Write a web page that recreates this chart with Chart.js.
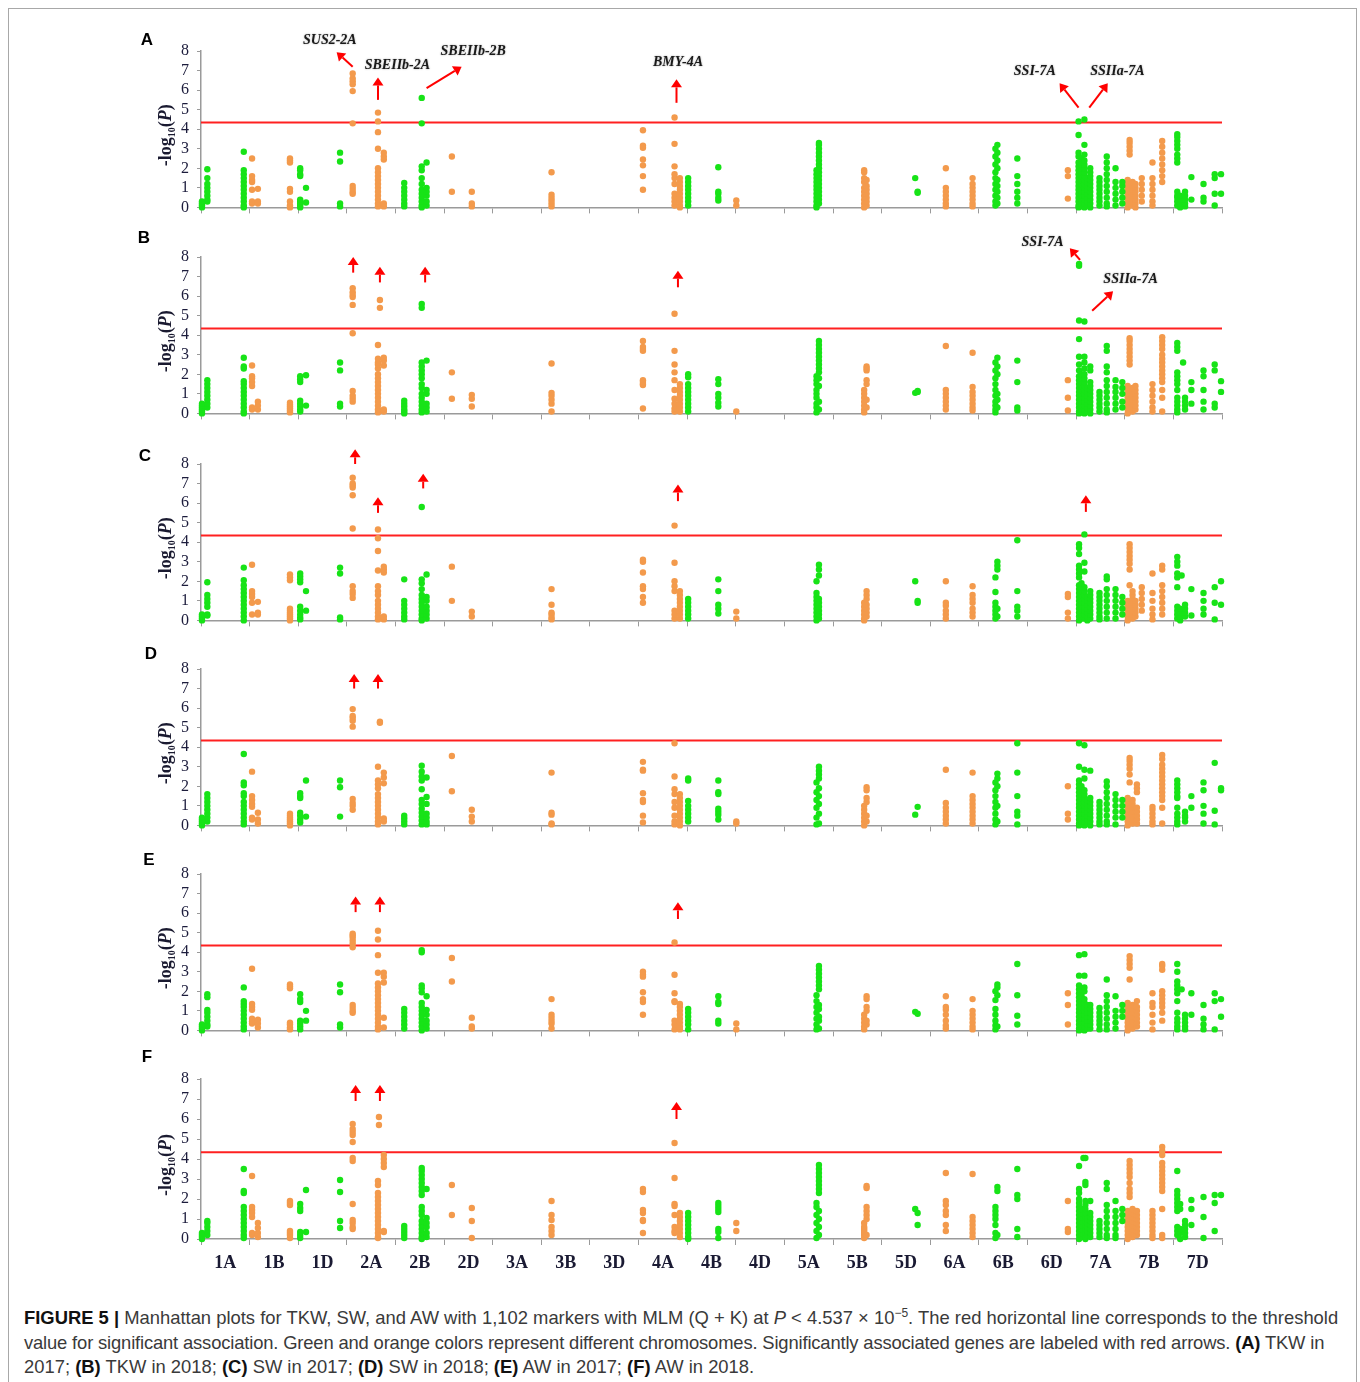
<!DOCTYPE html>
<html>
<head>
<meta charset="utf-8">
<script src="https://cdn.jsdelivr.net/npm/chart.js@4.4.0/dist/chart.umd.min.js"></script>
<style>
    body { margin: 0; background: #fff; width: 1360px; height: 1382px; overflow: hidden; position: relative; }
    #frame { position: absolute; left: 8px; top: 8px; width: 1347px; height: 1400px; border: 1px solid #a8a8a8; }
    canvas { position: absolute; left: 130px; }
    #caption { position: absolute; left: 24px; top: 1306px; font: 18.4px "Liberation Sans", Arial, sans-serif;
               line-height: 24.5px; color: #3a3a3a; white-space: nowrap; }
    #caption b { color: #111; }
    #caption sup { font-size: 12px; line-height: 0; }
    #caption .tight { letter-spacing: -0.16px; }
</style>
</head>
<body>
<div id="frame"></div>
<div id="caption">
<b>FIGURE 5 |</b> Manhattan plots for TKW, SW, and AW with 1,102 markers with MLM (Q + K) at <i>P</i> &lt; 4.537 × 10<sup>−5</sup>. The red horizontal line corresponds to the threshold<br>
<span class="tight">value for significant association. Green and orange colors represent different chromosomes. Significantly associated genes are labeled with red arrows. <b>(A)</b> TKW in</span><br>
2017; <b>(B)</b> TKW in 2018; <b>(C)</b> SW in 2017; <b>(D)</b> SW in 2018; <b>(E)</b> AW in 2017; <b>(F)</b> AW in 2018.
</div>
<script>
const chromosomes = ['1A','1B','1D','2A','2B','2D','3A','3B','3D','4A','4B','4D','5A','5B','5D','6A','6B','6D','7A','7B','7D'];
const threshold = 4.343; // -log10(4.537e-5)

// each row: genome position (chromosome index + fraction), then -log10(P) of the markers there
const tkw2017 = [
    [0.02, 0, 0.1, 0.2, 0.3], [0.13, 0.3, 0.4, 0.6, 0.8, 1.0, 1.2, 1.5, 1.95],
    [0.88, 0, 0.1, 0.3, 0.5, 0.7, 0.9, 1.1, 1.3, 1.5, 1.7, 1.9, 2.85],
    [1.05, 0.2, 0.3, 0.9, 1.3, 1.4, 1.6, 2.5], [1.17, 0.2, 0.3, 0.95],
    [1.83, 0, 0.1, 0.3, 0.8, 0.95, 2.3, 2.4, 2.5], [2.04, 0, 0.1, 0.2, 0.3, 0.4, 1.6, 1.7, 1.9, 2.0],
    [2.16, 0.25, 1.0], [2.86, 0.05, 0.2, 2.35, 2.8],
    [3.12, 0.7, 0.8, 0.95, 1.1, 4.3, 5.95, 6.3, 6.45, 6.6, 6.85],
    [3.64, 0.05, 0.2, 0.4, 0.6, 0.8, 1.0, 1.2, 1.4, 1.6, 1.8, 2.0, 3.0, 3.85, 4.4, 4.85],
    [3.76, 0.05, 0.2, 2.45, 2.6, 2.8], [4.18, 0.05, 0.2, 0.4, 0.6, 0.8, 1.0, 1.25],
    [4.54, 0, 0.1, 0.3, 0.5, 0.7, 0.9, 1.2, 1.5, 1.9, 2.1, 4.3, 5.6], [4.64, 0.1, 0.3, 0.6, 0.8, 1.0, 2.3],
    [5.16, 0.8, 2.6], [5.57, 0.05, 0.2, 0.8], [7.21, 0.05, 0.2, 0.35, 0.5, 0.65, 1.8],
    [9.09, 0.9, 1.6, 2.15, 2.45, 3.05, 3.15, 3.95], [9.74, 0.1, 0.3, 0.5, 0.7, 1.2, 1.5, 1.7, 2.1, 3.25, 4.6],
    [9.85, 0, 0.1, 0.3, 0.5, 0.7, 0.9, 1.1, 1.3, 1.5], [10.02, 0.1, 0.3, 0.5, 0.7, 0.9, 1.1, 1.3, 1.5],
    [10.64, 0.35, 0.5, 0.7, 0.8, 2.05], [11.01, 0.1, 0.35],
    [12.66, 0, 0.1, 0.3, 0.5, 0.7, 0.9, 1.1, 1.3, 1.5, 1.7, 1.9],
    [12.71, 0.2, 0.4, 0.6, 0.8, 1.0, 1.2, 1.4, 1.6, 1.8, 2.0, 2.2, 2.4, 2.6, 2.8, 3.0, 3.2, 3.3],
    [13.64, 0, 0.2, 0.4, 0.6, 0.8, 1.0, 1.3, 1.5, 1.8, 1.9], [13.69, 0.1, 0.3, 0.5, 0.7, 0.9, 1.1, 1.4],
    [14.69, 1.5], [14.74, 0.75, 0.8], [15.32, 0.05, 0.2, 0.4, 0.6, 0.8, 1.0, 2.0],
    [15.87, 0.05, 0.2, 0.4, 0.6, 0.8, 1.0, 1.2, 1.5],
    [16.34, 0.1, 0.3, 0.6, 0.9, 1.2, 1.5, 1.8, 2.2, 2.6, 3.0], [16.38, 0.2, 0.5, 0.8, 1.1, 1.4, 2.0, 2.4, 2.8, 3.2],
    [16.79, 0.2, 0.5, 0.8, 1.2, 1.6, 2.5], [17.83, 0.45, 1.6, 1.9],
    [18.05, 0, 0.1, 0.3, 0.5, 0.7, 0.9, 1.1, 1.3, 1.5, 1.7, 1.9, 2.1, 2.3, 2.6, 2.8, 3.7, 4.4],
    [18.11, 0.05, 0.2, 0.4, 0.6, 0.8, 1.0, 1.2, 1.4, 1.6, 1.8, 2.0, 2.2, 2.5],
    [18.17, 0, 0.2, 0.4, 0.6, 0.8, 1.0, 1.2, 1.4, 1.6, 1.8, 2.0, 2.2, 2.4, 2.7, 3.2, 4.5],
    [18.23, 0.1, 0.3, 0.5, 0.7, 0.9, 1.1, 1.3, 1.5], [18.29, 0, 0.2, 0.4, 0.6, 0.8, 1.0, 1.2, 1.4, 1.6, 1.8, 2.0],
    [18.48, 0.1, 0.3, 0.5, 0.7, 0.9, 1.1, 1.3, 1.5], [18.63, 0.05, 0.2, 0.5, 0.8, 1.1, 1.4, 1.7, 2.0, 2.3, 2.6],
    [18.81, 0.1, 0.4, 0.7, 1.0, 1.3, 2.0], [18.95, 0.2, 0.5, 0.8, 1.1, 1.3],
    [19.06, 0, 0.2, 0.4, 0.6, 0.8, 1.0, 1.2, 1.4], [19.1, 2.7, 2.9, 3.1, 3.3, 3.45],
    [19.16, 0.1, 0.3, 0.5, 0.7, 0.9, 1.1, 1.3], [19.22, 0, 0.2, 0.4, 0.6, 0.8, 1.0, 1.2],
    [19.35, 0.3, 0.6, 0.9, 1.2, 1.5], [19.57, 0.1, 0.3, 0.6, 0.9, 1.2, 1.5, 2.3],
    [19.77, 1.3, 1.6, 1.9, 2.2, 2.5, 2.8, 3.1, 3.4],
    [20.08, 0.1, 0.3, 0.5, 0.6, 0.8, 2.3, 2.5, 2.7, 3.0, 3.2, 3.4, 3.6, 3.75], [20.14, 0, 0.2, 0.4, 0.6],
    [20.24, 0.05, 0.2, 0.4, 0.6, 0.8], [20.37, 0.4, 1.55], [20.62, 0.3, 0.5, 1.2],
    [20.85, 0.1, 0.7, 1.5, 1.7], [20.98, 0.7, 1.7]
];

const tkw2018 = [
    [0.02, 0, 0.1, 0.2, 0.3, 0.4, 0.5], [0.13, 0.3, 0.5, 0.7, 0.9, 1.1, 1.3, 1.5, 1.7],
    [0.88, 0, 0.1, 0.3, 0.5, 0.7, 0.9, 1.1, 1.3, 1.5, 1.65, 2.3, 2.4, 2.85],
    [1.05, 0.2, 0.3, 1.4, 1.6, 1.8, 1.9, 2.45], [1.17, 0.2, 0.4, 0.6],
    [1.83, 0.05, 0.15, 0.25, 0.35, 0.45, 0.55], [2.04, 0.1, 0.2, 0.35, 0.5, 0.65, 1.6, 1.75, 1.9],
    [2.16, 0.4, 1.95], [2.86, 0.35, 0.5, 2.2, 2.6],
    [3.12, 0.6, 0.75, 0.9, 1.15, 4.1, 5.55, 5.95, 6.05, 6.2, 6.4],
    [3.64, 0.05, 0.2, 0.4, 0.6, 0.8, 1.0, 1.2, 1.4, 1.6, 1.8, 2.0, 2.3, 2.5, 2.6, 2.8, 3.5],
    [3.68, 5.4, 5.8], [3.76, 0.1, 0.2, 2.45, 2.7, 2.85], [4.18, 0, 0.1, 0.2, 0.35, 0.5, 0.65],
    [4.54, 0.05, 0.2, 0.4, 0.6, 0.8, 1.0, 1.3, 1.5, 1.8, 2.0, 2.2, 2.4, 2.6, 5.4, 5.6],
    [4.64, 0.1, 0.3, 0.5, 1.0, 1.2, 2.7], [5.16, 0.75, 2.1], [5.57, 0.35, 0.75, 0.95],
    [7.21, 0.1, 0.5, 0.7, 0.9, 1.05, 2.55], [9.09, 0.25, 1.45, 1.5, 1.6, 1.7, 3.2, 3.3, 3.4, 3.7],
    [9.74, 0.1, 0.25, 0.5, 0.75, 1.2, 1.7, 2.1, 2.5, 3.2, 5.1], [9.85, 0.1, 0.3, 0.5, 0.7, 0.9, 1.1, 1.3, 1.5],
    [10.02, 0.1, 0.3, 0.5, 0.7, 0.9, 1.1, 1.3, 1.5, 1.85, 2.0], [10.64, 0.35, 0.55, 0.8, 1.0, 1.5, 1.75],
    [11.01, 0.1], [12.66, 0.05, 0.3, 0.5, 0.8, 1.0, 1.2, 1.5, 1.7, 1.9],
    [12.71, 0.2, 0.6, 1.4, 1.8, 2.1, 2.3, 2.5, 2.7, 2.9, 3.1, 3.3, 3.5, 3.7],
    [13.64, 0.05, 0.2, 0.4, 0.6, 0.8, 1.0, 1.2], [13.69, 0.3, 0.7, 1.5, 1.7, 2.2, 2.3, 2.4],
    [14.69, 1.05], [14.74, 1.1, 1.15], [15.32, 0.2, 0.4, 0.6, 0.8, 1.0, 1.2, 3.45],
    [15.87, 0.15, 0.3, 0.5, 0.7, 0.9, 1.1, 1.35, 3.1],
    [16.34, 0.05, 0.2, 0.4, 0.6, 0.9, 1.2, 1.5, 1.8, 2.2, 2.6], [16.38, 0.3, 0.7, 1.0, 2.0, 2.4, 2.85],
    [16.79, 0.15, 0.3, 1.6, 2.7], [17.83, 0.15, 0.8, 1.7],
    [18.06, 0, 0.1, 0.3, 0.5, 0.7, 0.9, 1.1, 1.3, 1.5, 1.7, 1.9, 2.2, 2.5, 2.9, 3.8, 4.75, 7.55, 7.65],
    [18.11, 0.05, 0.2, 0.4, 0.6, 0.8, 1.0, 1.2, 1.4, 1.6, 1.8, 2.0],
    [18.17, 0, 0.2, 0.4, 0.6, 0.8, 1.0, 1.2, 1.4, 1.6, 1.8, 2.0, 2.3, 2.6, 2.9, 4.7],
    [18.23, 0.1, 0.3, 0.5, 0.7, 0.9, 1.1, 1.3], [18.29, 0, 0.2, 0.4, 0.6, 0.8, 1.0, 1.2, 1.4, 1.6, 2.2, 2.4],
    [18.48, 0.1, 0.3, 0.5, 0.7, 0.9, 1.1], [18.63, 0.05, 0.2, 0.5, 0.8, 1.1, 1.4, 1.7, 2.1, 2.4, 3.2, 3.45],
    [18.81, 0.2, 0.5, 0.8, 1.1, 1.35, 1.7], [18.95, 0.3, 0.6, 1.0, 1.3, 1.6],
    [19.06, 0, 0.2, 0.4, 0.6, 0.8, 1.0, 1.2, 1.4], [19.1, 2.5, 2.7, 2.9, 3.1, 3.3, 3.5, 3.7, 3.85],
    [19.16, 0.1, 0.3, 0.5, 0.7, 0.9, 1.1, 1.3], [19.22, 0.2, 0.4, 0.6, 0.8, 1.0, 1.2, 1.4],
    [19.57, 0.1, 0.3, 0.6, 0.9, 1.2, 1.5],
    [19.77, 0.1, 0.8, 1.2, 1.6, 1.8, 2.0, 2.2, 2.4, 2.6, 2.8, 3.0, 3.3, 3.5, 3.7, 3.9],
    [20.08, 0.05, 0.2, 0.4, 0.6, 0.8, 1.2, 1.5, 1.7, 1.9, 2.1, 3.2, 3.4, 3.6], [20.2, 2.6],
    [20.24, 0.2, 0.4, 0.6, 0.8], [20.37, 0.5, 1.2, 1.6], [20.62, 0.2, 0.6, 1.2, 1.9, 2.2],
    [20.85, 0.3, 0.5, 2.2, 2.5], [20.98, 1.1, 1.65]
];

const sw2017 = [
    [0.02, 0, 0.1, 0.2, 0.3], [0.13, 0.25, 0.3, 0.7, 0.9, 1.1, 1.3, 1.95],
    [0.88, 0, 0.2, 0.4, 0.6, 0.8, 1.0, 1.2, 1.4, 1.6, 1.8, 2.05, 2.7],
    [1.05, 0.3, 0.9, 1.2, 1.35, 1.5, 2.85], [1.17, 0.3, 0.4, 0.95],
    [1.83, 0, 0.1, 0.2, 0.3, 0.4, 0.5, 0.6, 2.05, 2.2, 2.35], [2.04, 0.05, 0.15, 0.3, 0.5, 0.7, 1.95, 2.1, 2.25, 2.4],
    [2.16, 0.5, 1.5], [2.86, 0.05, 0.15, 2.4, 2.7],
    [3.12, 1.15, 1.35, 1.5, 1.75, 4.7, 6.4, 6.8, 6.9, 7.0, 7.3],
    [3.64, 0.05, 0.2, 0.4, 0.6, 0.8, 1.0, 1.3, 1.5, 1.75, 2.55, 3.55, 4.2, 4.65],
    [3.76, 0.05, 0.2, 2.45, 2.6, 2.75], [4.18, 0.05, 0.2, 0.4, 0.6, 0.8, 1.0, 2.1],
    [4.54, 0, 0.1, 0.3, 0.5, 0.7, 0.9, 1.1, 1.3, 1.6, 1.9, 2.1, 5.8], [4.64, 0.1, 0.3, 0.5, 0.7, 1.0, 1.2, 2.35],
    [5.16, 1.0, 2.75], [5.57, 0.2, 0.45], [7.21, 0.05, 0.15, 0.3, 0.4, 0.8, 1.6],
    [9.09, 0.9, 1.2, 1.6, 1.75, 2.45, 3.0, 3.1], [9.74, 0.1, 0.3, 0.5, 1.5, 1.75, 2.0, 2.95, 4.85],
    [9.85, 0.1, 0.3, 0.5, 0.7, 0.9, 1.1, 1.3, 1.5], [10.02, 0.1, 0.3, 0.5, 0.7, 0.9, 1.1],
    [10.64, 0.35, 0.6, 0.8, 1.5, 2.1], [11.01, 0.1, 0.45],
    [12.66, 0, 0.2, 0.4, 0.6, 0.8, 1.0, 1.2, 1.4, 2.0], [12.71, 0.1, 0.3, 0.5, 0.7, 0.9, 1.1, 2.3, 2.6, 2.85],
    [13.64, 0, 0.1, 0.3, 0.5, 0.7, 0.9], [13.69, 0.2, 0.4, 0.6, 0.8, 1.1, 1.3, 1.5],
    [14.69, 2.0], [14.74, 0.9, 1.0], [15.32, 0.1, 0.3, 0.5, 0.75, 0.9, 2.0],
    [15.87, 0.2, 0.4, 0.6, 0.9, 1.1, 1.3, 1.75], [16.34, 0.1, 0.3, 0.5, 0.7, 0.9, 1.45, 2.2],
    [16.38, 0.2, 0.6, 2.6, 2.8, 3.0], [16.79, 0.2, 0.5, 0.7, 1.5, 4.1], [17.83, 0.1, 0.4, 1.2, 1.35],
    [18.06, 0, 0.2, 0.4, 0.6, 0.8, 1.0, 1.2, 1.4, 1.6, 1.8, 2.2, 2.4, 2.6, 2.8, 3.4, 3.7, 3.9],
    [18.11, 0.1, 0.3, 0.5, 0.7, 0.9, 1.1, 1.3, 1.5, 1.7, 1.9],
    [18.17, 0.1, 0.3, 0.5, 0.7, 0.9, 1.1, 1.3, 1.5, 1.7, 2.5, 2.95, 4.4],
    [18.23, 0, 0.2, 0.4, 0.6, 0.8, 1.0, 1.2], [18.29, 0.1, 0.3, 0.5, 0.7, 0.9, 1.1, 1.3, 1.5],
    [18.48, 0.05, 0.2, 0.4, 0.6, 0.8, 1.0, 1.2, 1.4], [18.63, 0.1, 0.4, 0.7, 1.0, 1.3, 1.6, 2.1, 2.25],
    [18.81, 0.1, 0.4, 0.7, 1.0, 1.3, 1.6], [18.95, 0.3, 0.6, 0.9, 1.2],
    [19.06, 0, 0.2, 0.4, 0.6, 0.8, 1.0], [19.1, 1.8, 2.6, 2.9, 3.1, 3.3, 3.5, 3.7, 3.9],
    [19.16, 0.1, 0.3, 0.5, 0.7, 0.9, 1.1, 1.3, 1.5], [19.22, 0.2, 0.4, 0.6, 0.8, 1.0],
    [19.35, 0.5, 0.8, 1.1, 1.4, 1.7], [19.57, 0.05, 0.3, 0.6, 1.0, 1.4, 2.4],
    [19.77, 0.3, 0.6, 0.9, 1.2, 1.5, 1.8, 2.6, 2.8],
    [20.08, 0.1, 0.3, 0.5, 0.7, 1.7, 2.2, 2.4, 2.8, 3.0, 3.25], [20.14, 0, 0.2, 0.4, 0.6], [20.17, 2.3],
    [20.24, 0.2, 0.4, 0.6, 0.8], [20.37, 0.25, 1.6], [20.62, 0.3, 0.6, 1.0, 1.4],
    [20.85, 0.05, 0.9, 1.7], [20.98, 0.8, 2.0]
];

const sw2018 = [
    [0.02, 0, 0.1, 0.2, 0.3, 0.4], [0.13, 0.2, 0.4, 0.6, 0.8, 1.0, 1.2, 1.4, 1.6],
    [0.88, 0.05, 0.2, 0.4, 0.6, 0.8, 1.0, 1.2, 1.5, 1.65, 2.05, 2.2, 3.65],
    [1.05, 0.3, 0.4, 0.95, 1.1, 1.3, 1.5, 2.75], [1.17, 0.1, 0.3, 0.65],
    [1.83, 0, 0.1, 0.2, 0.3, 0.4, 0.5, 0.6], [2.04, 0.15, 0.3, 0.5, 0.65, 1.4, 1.5, 1.65],
    [2.16, 0.45, 2.3], [2.86, 0.45, 1.95, 2.3],
    [3.12, 0.8, 1.0, 1.15, 1.35, 5.05, 5.35, 5.5, 5.6, 5.95],
    [3.64, 0.05, 0.2, 0.4, 0.6, 0.8, 1.0, 1.2, 1.4, 1.6, 1.9, 2.1, 2.3, 3.0], [3.68, 5.25, 5.3],
    [3.76, 0.2, 0.35, 2.15, 2.45, 2.7], [4.18, 0.05, 0.2, 0.35, 0.5],
    [4.54, 0.05, 0.25, 0.45, 0.65, 0.85, 1.1, 1.3, 1.85, 2.3, 2.5, 2.75, 3.05],
    [4.64, 0.05, 0.2, 0.4, 0.6, 1.1, 1.45, 2.45], [5.16, 1.75, 3.55], [5.57, 0.2, 0.45, 0.8],
    [7.21, 0.05, 0.1, 0.55, 0.65, 2.7], [9.09, 0.15, 0.5, 1.2, 1.3, 1.65, 2.8, 2.85, 3.25],
    [9.74, 0.05, 0.2, 0.5, 0.9, 1.2, 1.6, 1.85, 2.5, 4.2], [9.85, 0, 0.2, 0.4, 0.6, 0.8, 1.0, 1.2, 1.4, 1.6],
    [10.02, 0.2, 0.4, 0.6, 0.8, 1.0, 1.25, 2.3, 2.4], [10.64, 0.3, 0.55, 0.7, 0.85, 1.6, 1.7, 2.3],
    [11.01, 0.1, 0.2], [12.66, 0.05, 0.4, 0.9, 1.3, 1.7, 2.2],
    [12.71, 0.1, 0.6, 1.1, 1.5, 1.9, 2.4, 2.6, 2.8, 3.0],
    [13.64, 0, 0.2, 0.4, 0.6, 0.8, 1.0], [13.69, 0.2, 0.5, 1.2, 1.4, 1.8, 1.95],
    [14.69, 0.55], [14.74, 0.95], [15.32, 0.1, 0.3, 0.5, 0.7, 0.9, 1.15, 2.85],
    [15.87, 0.1, 0.3, 0.5, 0.7, 0.9, 1.1, 1.3, 1.5, 2.7], [16.34, 0.05, 0.3, 0.6, 0.9, 1.2, 1.5, 1.8, 2.2],
    [16.38, 0.2, 1.0, 2.0, 2.4, 2.65], [16.79, 0.05, 0.5, 0.7, 1.5, 2.7, 4.2], [17.83, 0.3, 0.6, 2.0],
    [18.06, 0, 0.1, 0.3, 0.5, 0.7, 0.9, 1.1, 1.3, 1.5, 1.7, 1.9, 2.1, 2.3, 3.0, 4.2],
    [18.11, 0.05, 0.2, 0.4, 0.6, 0.8, 1.0, 1.2, 1.4, 1.6, 1.8, 2.0],
    [18.17, 0, 0.2, 0.4, 0.6, 0.8, 1.0, 1.2, 1.4, 1.6, 1.8, 2.4, 2.85, 4.1],
    [18.23, 0.1, 0.3, 0.5, 0.7, 0.9, 1.1, 1.3], [18.29, 0, 0.2, 0.4, 0.6, 0.8, 1.0, 1.2, 1.4, 2.8],
    [18.48, 0.05, 0.2, 0.4, 0.6, 0.8, 1.0, 1.2], [18.63, 0.05, 0.2, 0.5, 0.8, 1.1, 1.4, 1.7, 2.0, 2.25],
    [18.81, 0.05, 0.4, 0.7, 1.0, 1.3, 1.6], [18.95, 0.4, 0.7, 1.0, 1.3],
    [19.06, 0, 0.2, 0.4, 0.6, 0.8, 1.0, 1.2, 1.4], [19.1, 2.2, 2.6, 2.9, 3.1, 3.3, 3.45],
    [19.16, 0.1, 0.3, 0.5, 0.7, 0.9, 1.1, 1.3], [19.25, 0.1, 0.3, 0.5, 0.7, 0.9, 1.7, 1.9, 2.1],
    [19.57, 0.05, 0.2, 0.4, 0.6, 0.8, 0.95],
    [19.77, 0.1, 0.9, 1.3, 1.5, 1.7, 1.9, 2.1, 2.3, 2.5, 2.7, 2.9, 3.1, 3.4, 3.6],
    [20.08, 0.05, 0.2, 0.4, 0.6, 0.9, 1.4, 1.5, 1.7, 1.9, 2.1, 2.3], [20.24, 0.2, 0.4, 0.5, 0.7],
    [20.37, 0.9, 1.5], [20.62, 0.1, 0.6, 1.0, 1.8, 2.2], [20.85, 0.05, 0.75, 3.2], [20.98, 1.8, 1.9]
];

const aw2017 = [
    [0.02, 0, 0.1, 0.2, 0.3], [0.13, 0.2, 0.3, 0.5, 0.7, 0.9, 1.05, 1.7, 1.85],
    [0.88, 0.05, 0.2, 0.4, 0.6, 0.8, 1.0, 1.2, 1.35, 1.5, 2.2],
    [1.05, 0.35, 0.45, 0.6, 1.05, 1.2, 1.35, 3.15], [1.17, 0.15, 0.35, 0.55],
    [1.83, 0.05, 0.15, 0.3, 0.4, 2.15, 2.25, 2.35], [2.04, 0.05, 0.2, 0.35, 0.5, 1.45, 1.6, 1.85],
    [2.16, 0.5, 1.0], [2.86, 0.15, 0.3, 1.95, 2.35],
    [3.12, 0.9, 1.0, 1.15, 1.3, 4.25, 4.45, 4.6, 4.75, 4.85, 4.95],
    [3.64, 0.05, 0.2, 0.4, 0.6, 0.8, 1.0, 1.2, 1.4, 1.6, 1.8, 2.0, 2.2, 2.4, 2.95, 3.85, 4.65, 5.1],
    [3.76, 0.15, 0.65, 2.45, 2.75, 2.95], [4.18, 0.1, 0.3, 0.5, 0.7, 0.9, 1.1],
    [4.54, 0, 0.2, 0.4, 0.6, 0.8, 1.0, 1.2, 1.4, 1.95, 2.15, 2.3, 4.0, 4.1],
    [4.64, 0.1, 0.3, 0.5, 0.8, 1.05, 1.75], [5.16, 2.5, 3.7], [5.57, 0.1, 0.2, 0.65],
    [7.21, 0.1, 0.35, 0.5, 0.65, 0.8, 1.6], [9.09, 0.8, 1.45, 1.6, 1.95, 2.75, 2.85, 3.0],
    [9.74, 0.05, 0.3, 0.5, 1.45, 1.5, 1.9, 2.85, 4.5], [9.85, 0.05, 0.2, 0.4, 0.6, 0.8, 1.0, 1.2, 1.35],
    [10.02, 0.05, 0.3, 0.5, 0.7, 0.9, 1.1], [10.64, 0.35, 0.5, 1.35, 1.45, 1.75], [11.01, 0.05, 0.35],
    [12.66, 0.05, 0.3, 0.6, 0.9, 1.2, 1.5, 1.8],
    [12.71, 0.1, 0.5, 0.7, 1.1, 1.3, 2.1, 2.3, 2.5, 2.7, 2.9, 3.1, 3.3],
    [13.64, 0.05, 0.2, 0.4, 0.6, 0.8], [13.69, 0.3, 0.5, 1.0, 1.2, 1.6, 1.75],
    [14.69, 0.95], [14.74, 0.85], [15.32, 0.1, 0.25, 0.5, 0.8, 1.05, 1.2, 1.75],
    [15.87, 0.05, 0.2, 0.4, 0.6, 0.8, 1.0, 1.6], [16.34, 0.05, 0.25, 0.5, 0.8, 1.1, 1.55, 2.0],
    [16.38, 0.2, 1.8, 2.2, 2.35], [16.79, 0.3, 0.75, 1.8, 3.4], [17.83, 0.3, 1.3, 1.9],
    [18.06, 0, 0.1, 0.3, 0.5, 0.7, 0.9, 1.1, 1.3, 1.5, 1.7, 1.9, 2.1, 2.3, 2.8, 3.85],
    [18.11, 0.05, 0.2, 0.4, 0.6, 0.8, 1.0, 1.2, 1.4, 1.6, 1.8],
    [18.17, 0, 0.2, 0.4, 0.6, 0.8, 1.0, 1.2, 1.4, 1.6, 2.0, 2.2, 2.8, 3.9],
    [18.23, 0.1, 0.3, 0.5, 0.7, 0.9, 1.1, 1.3], [18.29, 0.1, 0.3, 0.5, 0.7, 0.9, 1.1, 1.3],
    [18.48, 0.05, 0.3, 0.5, 0.7, 0.9, 1.15], [18.63, 0.05, 0.3, 0.6, 0.9, 1.2, 1.5, 1.8, 2.6],
    [18.81, 0.1, 0.4, 0.7, 1.0, 1.75], [18.95, 0.7, 1.0, 1.3],
    [19.06, 0, 0.2, 0.4, 0.6, 0.8, 1.0, 1.2, 1.4], [19.1, 2.6, 3.2, 3.4, 3.6, 3.8],
    [19.16, 0.1, 0.3, 0.5, 0.7, 0.9, 1.1, 1.3], [19.25, 0.2, 0.4, 0.6, 0.8, 1.0, 1.2, 1.5],
    [19.57, 0.05, 0.4, 0.8, 1.2, 1.4, 1.9], [19.77, 0.5, 0.9, 1.2, 1.4, 1.6, 1.8, 2.0, 3.1, 3.3, 3.4],
    [20.08, 0.05, 0.2, 0.4, 0.6, 0.9, 1.5, 1.9, 2.1, 2.3, 2.5, 3.0, 3.4], [20.17, 2.1],
    [20.24, 0.05, 0.2, 0.4, 0.6, 0.8], [20.37, 0.8, 1.9], [20.62, 0.05, 0.3, 0.6, 1.3],
    [20.85, 0.05, 1.5, 1.9], [20.98, 0.7, 1.6]
];

const aw2018 = [
    [0.02, 0, 0.1, 0.2, 0.3], [0.13, 0.2, 0.4, 0.6, 0.8, 0.9],
    [0.88, 0.05, 0.2, 0.4, 0.6, 0.8, 1.0, 1.2, 1.4, 1.6, 2.3, 2.4, 3.5],
    [1.05, 0.2, 0.3, 1.1, 1.3, 1.45, 1.6, 3.15], [1.17, 0.1, 0.3, 0.55, 0.8],
    [1.83, 0.05, 0.2, 0.3, 0.4, 1.7, 1.8, 1.9], [2.04, 0.05, 0.2, 0.35, 1.4, 1.55, 1.75],
    [2.16, 0.35, 2.45], [2.86, 0.55, 0.9, 2.35, 2.95],
    [3.12, 0.5, 0.6, 0.8, 0.95, 1.75, 3.9, 4.05, 4.85, 5.2, 5.35, 5.5, 5.75],
    [3.64, 0.05, 0.1, 0.3, 0.5, 0.7, 0.9, 1.1, 1.3, 1.5, 1.7, 1.9, 2.1, 2.3, 2.7, 2.9], [3.66, 5.7, 6.1],
    [3.76, 0.35, 0.4, 3.6, 3.8, 4.0, 4.2], [4.18, 0.05, 0.2, 0.35, 0.5, 0.65],
    [4.54, 0, 0.1, 0.3, 0.5, 0.7, 0.9, 1.2, 1.4, 1.6, 2.2, 2.4, 2.6, 2.8, 3.0, 3.2, 3.4, 3.55],
    [4.64, 0.1, 0.3, 0.6, 0.8, 1.05, 2.5], [5.16, 1.2, 2.7], [5.57, 0.05, 0.9, 1.55],
    [7.21, 0.2, 0.4, 0.6, 0.95, 1.2, 1.9], [9.09, 0.3, 0.9, 0.95, 1.3, 1.45, 2.35, 2.5],
    [9.74, 0.3, 0.4, 0.6, 1.2, 1.65, 1.75, 3.05, 4.8], [9.85, 0.1, 0.3, 0.5, 0.7, 0.9, 1.1, 1.3],
    [10.02, 0, 0.1, 0.3, 0.5, 0.7, 0.9, 1.1, 1.3], [10.64, 0.05, 0.35, 0.5, 1.35, 1.5, 1.65, 1.8],
    [11.01, 0.4, 0.8], [12.66, 0.05, 0.4, 0.8, 1.2, 1.6, 1.8],
    [12.71, 0.2, 0.6, 1.0, 1.4, 2.3, 2.5, 2.7, 2.9, 3.1, 3.3, 3.5, 3.7],
    [13.64, 0.05, 0.2, 0.3, 0.4, 0.5, 0.6, 0.8], [13.69, 0.2, 1.0, 1.2, 1.4, 1.6, 2.55, 2.65],
    [14.69, 1.5], [14.74, 0.7, 1.3], [15.32, 0.4, 0.7, 1.2, 1.4, 1.7, 1.9, 3.3],
    [15.87, 0.1, 0.3, 0.5, 0.7, 0.9, 1.1, 3.25], [16.34, 0.05, 0.3, 0.7, 1.0, 1.2, 1.4, 1.6],
    [16.38, 0.2, 2.4, 2.6], [16.79, 0.1, 0.5, 2.0, 2.2, 3.5], [17.83, 0.35, 0.5, 1.9],
    [18.06, 0, 0.2, 0.4, 0.6, 0.8, 1.0, 1.2, 1.4, 1.6, 1.8, 2.0, 2.3, 2.5, 3.65],
    [18.11, 0.1, 0.3, 0.5, 0.7, 0.9, 1.1, 1.3, 1.5], [18.15, 4.05],
    [18.19, 0, 0.1, 0.3, 0.5, 0.7, 0.9, 1.1, 1.3, 1.5, 1.7, 1.9, 2.7, 2.85, 4.05],
    [18.23, 0.2, 0.4, 0.6, 0.8, 1.0], [18.29, 0.1, 0.3, 0.5, 0.7, 0.9, 1.1, 1.3, 1.9],
    [18.48, 0.1, 0.3, 0.5, 0.7, 0.9], [18.63, 0.05, 0.2, 0.5, 0.8, 1.1, 1.4, 1.7, 2.5, 2.8],
    [18.81, 0.05, 0.2, 0.5, 0.8, 1.1, 1.4, 1.9], [18.95, 0.9, 1.2, 1.5],
    [19.06, 0, 0.2, 0.4, 0.6, 0.8, 1.0, 1.2, 1.4], [19.1, 2.1, 2.3, 2.5, 2.8, 3.1, 3.3, 3.5, 3.7, 3.9],
    [19.16, 0.1, 0.3, 0.5, 0.7, 0.9, 1.1, 1.3, 1.5], [19.25, 0.2, 0.4, 0.6, 0.8, 1.0, 1.2, 1.4],
    [19.57, 0.05, 0.2, 0.4, 0.6, 0.8, 1.0, 1.2, 1.4],
    [19.77, 0.05, 0.2, 1.5, 2.4, 2.6, 2.8, 3.0, 3.2, 3.4, 3.6, 3.8, 4.2, 4.4, 4.6],
    [20.08, 0.2, 0.4, 0.6, 1.4, 1.6, 1.8, 2.0, 2.2, 2.4, 3.4], [20.14, 0, 0.3, 0.5, 1.5, 1.75],
    [20.24, 0.1, 0.3, 0.5, 0.7, 0.9], [20.37, 0.7, 1.5, 1.95], [20.62, 0.05, 1.1, 2.1],
    [20.85, 0.4, 1.8, 2.2], [20.98, 2.2]
];

// red arrows: [fromPos, fromValue, toPos, toValue]
const arrowsA = [[3.12, 7.2, 2.79, 7.94], [3.64, 5.5, 3.64, 6.65], [4.64, 6.1, 5.36, 7.2],
                 [9.78, 5.35, 9.78, 6.55], [18.05, 5.1, 17.66, 6.35], [18.27, 5.1, 18.65, 6.35]];
const arrowsB = [[3.13, 7.2, 3.13, 8.0], [3.68, 6.7, 3.68, 7.5], [4.61, 6.7, 4.61, 7.5],
                 [9.81, 6.45, 9.81, 7.3], [18.08, 7.85, 17.87, 8.45], [18.33, 5.25, 18.76, 6.25]];
const arrowsC = [[3.17, 8.0, 3.17, 8.75], [3.64, 5.5, 3.64, 6.3], [4.57, 6.75, 4.57, 7.5],
                 [9.81, 6.1, 9.81, 6.95], [18.2, 5.55, 18.2, 6.4]];
const arrowsD = [[3.15, 7.0, 3.15, 7.75], [3.64, 7.0, 3.64, 7.75]];
const arrowsE = [[3.18, 6.05, 3.18, 6.85], [3.68, 6.05, 3.68, 6.85], [9.81, 5.7, 9.81, 6.55]];
const arrowsF = [[3.18, 6.9, 3.18, 7.7], [3.68, 6.9, 3.68, 7.7], [9.78, 6.0, 9.78, 6.85]];

// gene names: [text, pos, value]
const genesA = [['SUS2-2A', 2.65, 8.56], ['SBEIIb-2A', 4.04, 7.26], ['SBEIIb-2B', 5.6, 7.97],
                ['BMY-4A', 9.81, 7.4], ['SSI-7A', 17.15, 6.98], ['SSIIa-7A', 18.85, 6.98]];
const genesB = [['SSI-7A', 17.31, 8.77], ['SSIIa-7A', 19.12, 6.85]];

const panels = [
    { letter: 'A', cols: tkw2017, arrows: arrowsA, genes: genesA, top: 51, lx: -54, ly: -11 },
    { letter: 'B', cols: tkw2018, arrows: arrowsB, genes: genesB, top: 257, lx: -57, ly: -19 },
    { letter: 'C', cols: sw2017, arrows: arrowsC, genes: [], top: 464, lx: -56, ly: -8 },
    { letter: 'D', cols: sw2018, arrows: arrowsD, genes: [], top: 669, lx: -50, ly: -15 },
    { letter: 'E', cols: aw2017, arrows: arrowsE, genes: [], top: 874, lx: -52, ly: -14 },
    { letter: 'F', cols: aw2018, arrows: arrowsF, genes: [], top: 1079, lx: -54, ly: -22, labels: true }
];

const GREEN = '#17e317';
const ORANGE = '#f39a4c';
const AXIS = '#9a9a9a';
const PAD_TOP = 32;
const PLOT_H = 160;

function toPoints(cols, parity) {
    const pts = [];
    cols.forEach(([pos, ...vals]) => {
        if (Math.floor(pos) % 2 !== parity) return;
        vals.forEach(v => pts.push({ x: pos, y: v }));
    });
    return pts;
}

function drawArrow(ctx, x1, y1, x2, y2) {
    const ang = Math.atan2(y2 - y1, x2 - x1);
    const head = 8, half = 5.5;
    const bx = x2 - head * Math.cos(ang), by = y2 - head * Math.sin(ang);
    ctx.strokeStyle = '#ff0000';
    ctx.fillStyle = '#ff0000';
    ctx.lineWidth = 2;
    ctx.beginPath(); ctx.moveTo(x1, y1); ctx.lineTo(bx, by); ctx.stroke();
    ctx.beginPath();
    ctx.moveTo(x2, y2);
    ctx.lineTo(bx + half * Math.sin(ang), by - half * Math.cos(ang));
    ctx.lineTo(bx - half * Math.sin(ang), by + half * Math.cos(ang));
    ctx.closePath(); ctx.fill();
}

function drawYTitle(ctx, cx, cy) {
    const parts = [
        ['-log', 'bold 18px "Liberation Serif"', 0],
        ['10', 'bold 10px "Liberation Serif"', 4],
        ['(', 'bold 18px "Liberation Serif"', 0],
        ['P', 'bold italic 18px "Liberation Serif"', 0],
        [')', 'bold 18px "Liberation Serif"', 0]
    ];
    let total = 0;
    parts.forEach(p => { ctx.font = p[1]; total += ctx.measureText(p[0]).width; });
    ctx.save();
    ctx.translate(cx, cy);
    ctx.rotate(-Math.PI / 2);
    ctx.fillStyle = '#1a1a30';
    ctx.textBaseline = 'alphabetic';
    let x = -total / 2;
    parts.forEach(p => {
        ctx.font = p[1];
        ctx.fillText(p[0], x, 6 + p[2]);
        x += ctx.measureText(p[0]).width;
    });
    ctx.restore();
}

const decor = {
    id: 'decor',
    beforeDatasetsDraw(chart) {
        const { ctx, chartArea: a, scales: { y } } = chart;
        const ty = y.getPixelForValue(threshold);
        ctx.save();
        ctx.strokeStyle = '#ff2020';
        ctx.lineWidth = 2;
        ctx.beginPath(); ctx.moveTo(a.left, ty); ctx.lineTo(a.right, ty); ctx.stroke();
        ctx.restore();
    },
    afterDatasetsDraw(chart, args, o) {
        const { ctx, chartArea: a, scales: { x, y } } = chart;
        ctx.save();
        o.arrows.forEach(([p1, v1, p2, v2]) =>
            drawArrow(ctx, x.getPixelForValue(p1), y.getPixelForValue(v1), x.getPixelForValue(p2), y.getPixelForValue(v2)));
        ctx.font = 'italic bold 14px "Liberation Serif"';
        ctx.textAlign = 'center';
        ctx.textBaseline = 'middle';
        ctx.fillStyle = '#1a1a1a';
        ctx.shadowColor = 'rgba(0,0,0,0.35)';
        ctx.shadowBlur = 2;
        o.genes.forEach(([t, p, v]) => ctx.fillText(t, x.getPixelForValue(p), y.getPixelForValue(v)));
        ctx.shadowBlur = 0;
        ctx.font = 'bold 17px "Liberation Sans"';
        ctx.fillStyle = '#000';
        ctx.fillText(o.letter, a.left + o.lx, a.top + o.ly);
        ctx.restore();
        drawYTitle(ctx, a.left - 36, (a.top + a.bottom) / 2 + 6);
    }
};

panels.forEach(p => {
    const axisH = p.labels ? 50 : 14;
    const canvas = document.createElement('canvas');
    canvas.width = 1110;
    canvas.height = PAD_TOP + PLOT_H + axisH;
    canvas.style.top = (p.top - PAD_TOP) + 'px';
    document.body.appendChild(canvas);

    new Chart(canvas, {
        type: 'scatter',
        data: {
            datasets: [
                { data: toPoints(p.cols, 0), backgroundColor: GREEN, pointRadius: 3.2, borderWidth: 0, clip: false },
                { data: toPoints(p.cols, 1), backgroundColor: ORANGE, pointRadius: 3.2, borderWidth: 0, clip: false }
            ]
        },
        options: {
            responsive: false,
            animation: false,
            events: [],
            layout: { padding: { left: 0, right: 18, top: PAD_TOP, bottom: 0 } },
            plugins: {
                legend: { display: false },
                tooltip: { enabled: false },
                decor: { arrows: p.arrows, genes: p.genes, letter: p.letter, lx: p.lx, ly: p.ly }
            },
            scales: {
                x: {
                    type: 'linear',
                    min: 0,
                    max: chromosomes.length,
                    afterBuildTicks: s => {
                        s.ticks = [];
                        for (let i = 0; i <= chromosomes.length * 2; i++) s.ticks.push({ value: i / 2 });
                    },
                    afterFit: s => { s.height = axisH; },
                    grid: {
                        drawOnChartArea: false,
                        tickLength: 6,
                        color: c => (c.tick && c.tick.value % 1 === 0) ? AXIS : 'rgba(0,0,0,0)'
                    },
                    border: { color: AXIS, width: 1.5 },
                    ticks: {
                        autoSkip: false,
                        maxRotation: 0,
                        padding: 8,
                        color: '#1a1a33',
                        font: { family: '"Liberation Serif"', size: 18, weight: 'bold' },
                        callback: v => (p.labels && v % 1 !== 0) ? chromosomes[Math.floor(v)] : ''
                    }
                },
                y: {
                    min: 0,
                    max: 8,
                    afterFit: s => { s.width = 71; },
                    grid: { drawOnChartArea: false, tickLength: 4, color: AXIS },
                    border: { color: AXIS, width: 1.5 },
                    ticks: {
                        stepSize: 1,
                        autoSkip: false,
                        padding: 8,
                        color: '#1c1c3c',
                        font: { family: '"Liberation Serif"', size: 16 }
                    }
                }
            }
        },
        plugins: [decor]
    });
});
</script>
</body>
</html>
